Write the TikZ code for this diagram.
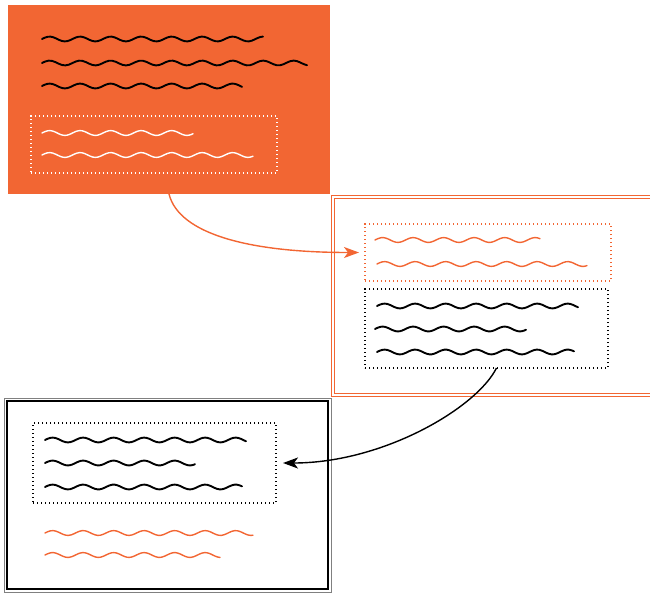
\documentclass[tikz,border=0pt]{standalone}
\usetikzlibrary{arrows.meta}
\definecolor{hiorange}{HTML}{F26633}
\tikzset{
  box/.style={inner sep=0pt, outer sep=0pt},
  selbox/.style={box, draw, line width=1.3pt, dash pattern=on 1.3pt off 2.7pt},
  wave/.style={line width=1.9pt, line cap=round},
  litewave/.style={line width=1.4pt, line cap=round},
  moveto/.style={line width=1.4pt, -{Stealth[length=15pt, width=11pt, inset=4pt]}}
}
\begin{document}
\begin{tikzpicture}[x=1pt, y=-1pt]
\path[use as bounding box, clip] (0,0) rectangle (650,592);
% source block
\node[box, fill=hiorange, minimum width=322pt, minimum height=189pt] (src) at (169,99.5) {};
\node[selbox, white, minimum width=246pt, minimum height=57pt] (srcsel) at (154,144.5) {};
\foreach \xa/\xb/\yy in {42/263/39, 42/307/63, 42/242/86}
  \draw[wave] plot[domain=\xa:\xb, samples=80, smooth] (\x, {\yy-2.4*sin((\x-\xa)*11.8)});
\foreach \xa/\xb/\yy in {42/193/133, 42/253/155}
  \draw[litewave, white] plot[domain=\xa:\xb, samples=80, smooth] (\x, {\yy-2.4*sin((\x-\xa)*11.8)});
% destination block
\node[box, draw=hiorange, line width=0.9pt, minimum width=400pt, minimum height=195pt] (dst) at (534,295.5) {};
\draw[hiorange, line width=0.9pt] ([shift={(-3pt,3pt)}]dst.north west) rectangle ([shift={(3pt,-3pt)}]dst.south east);
\node[selbox, hiorange, minimum width=246pt, minimum height=57pt] (dstsel) at (488,252.5) {};
\node[selbox, minimum width=243pt, minimum height=79pt] (dstold) at (486.5,328.5) {};
\foreach \xa/\xb/\yy in {375/540/240, 377/587/264}
  \draw[litewave, hiorange] plot[domain=\xa:\xb, samples=80, smooth] (\x, {\yy-2.4*sin((\x-\xa)*11.8)});
\foreach \xa/\xb/\yy in {377/578/306, 375/526/329, 377/574/352}
  \draw[wave] plot[domain=\xa:\xb, samples=80, smooth] (\x, {\yy-2.4*sin((\x-\xa)*11.8)});
% result block
\node[box, draw, line width=1.8pt, minimum width=321pt, minimum height=188pt] (out) at (167.5,495) {};
\draw[gray, line width=0.8pt] ([shift={(-3pt,3pt)}]out.north west) rectangle ([shift={(3pt,-3pt)}]out.south east);
\node[selbox, minimum width=243pt, minimum height=80pt] (outsel) at (154.5,463) {};
\foreach \xa/\xb/\yy in {45/246/440, 45/195/463, 45/242/487}
  \draw[wave] plot[domain=\xa:\xb, samples=80, smooth] (\x, {\yy-2.4*sin((\x-\xa)*11.8)});
\foreach \xa/\xb/\yy in {45/253/533, 45/220/555}
  \draw[litewave, hiorange] plot[domain=\xa:\xb, samples=80, smooth] (\x, {\yy-2.4*sin((\x-\xa)*11.8)});
% moves
\draw[moveto, hiorange] (src.south) .. controls +(10,40) and +(-110,0) .. ([xshift=-6pt]dstsel.west);
\draw[moveto] ([xshift=10pt]dstold.south) .. controls +(-20,40) and +(100,0) .. ([xshift=7pt]outsel.east);
\end{tikzpicture}
\end{document}
